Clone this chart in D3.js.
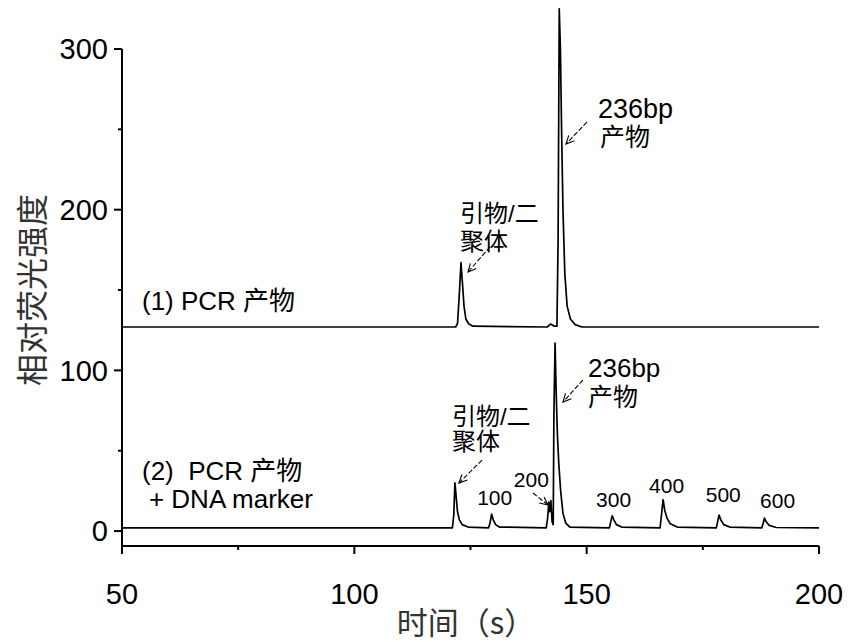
<!DOCTYPE html>
<html>
<head>
<meta charset="utf-8">
<script src="https://cdn.jsdelivr.net/npm/d3@7"></script>
<style>
  html, body { margin: 0; padding: 0; background: #fff; }
  svg { display: block; }
  text { white-space: pre; }
</style>
</head>
<body>
<svg id="chart" width="848" height="642"></svg>
<script>
// ---- Data ----
// Trace (1): PCR product
const trace1Time  = [50, 121.8, 122.2, 122.55, 122.95, 123.25, 123.6, 124.0, 124.6, 125.5, 141.5, 141.9, 142.2, 142.6, 143.0, 143.6, 143.85, 144.1, 144.35, 144.6, 144.9, 145.3, 145.8, 146.5, 147.5, 149, 200];
const trace1Value = [127, 127, 129, 145, 167, 155, 140, 132, 129, 127.5, 127, 128, 128.8, 128.3, 127.5, 127.5, 180, 325, 300, 250, 200, 160, 140, 132, 128.5, 127, 127];

// Trace (2): PCR product + DNA marker
const trace2Time  = [50, 121.1, 121.4, 121.65, 121.9, 122.2, 122.6, 123.2, 124.5,
  128.9, 129.2, 129.55, 129.9, 130.4, 131.2,
  141.3, 141.6, 141.85, 142.05, 142.3, 142.55, 142.8, 142.95, 143.2, 143.45, 143.7, 144.0, 144.4, 144.9, 145.5, 146.4,
  154.9, 155.2, 155.5, 155.85, 156.4, 157.5,
  165.8, 166.1, 166.45, 166.8, 167.3, 168.0, 169.5,
  177.9, 178.2, 178.5, 178.85, 179.5, 180.8,
  187.7, 188.0, 188.25, 188.6, 189.3, 190.8, 200];
const trace2Value = [2, 2, 10, 30, 22, 12, 7, 4, 2.5,
  2, 5, 10.5, 7, 4, 2.5,
  2, 8, 18, 12, 19, 6, 4, 73, 117, 85, 60, 42, 25, 11, 5, 2.5,
  2, 6, 9.5, 7, 4, 2.5,
  2, 10, 19.5, 13, 8, 4.5, 2.5,
  2, 6, 10, 7, 4, 2.5,
  2, 5, 8, 6, 3.5, 2.2, 2];

// Axis ticks
const xMajorTicks = [50, 100, 150, 200];
const xMinorTicks = [75, 125, 175];
const yMajorTicks = [0, 100, 200, 300];
const yMinorTicks = [50, 150, 250];

const xTitle = "时间（s）";
const yTitle = "相对荧光强度";

// Annotation texts
const labelTexts  = ["236bp", "产物", "引物/二", "聚体", "(1) PCR 产物",
                     "236bp", "产物", "引物/二", "聚体", "100", "200", "300", "400", "500", "600",
                     "(2)  PCR 产物", "+ DNA marker"];
const labelTime   = [152.44, 152.87, 122.74, 122.74, 54.3,
                     150.29, 150.29, 121.0, 121.0, 130.2, 138.1, 155.8, 167.2, 179.4, 191.1,
                     54.3, 55.8];
const labelValue  = [257.0, 239.6, 192.3, 174.9, 137.5,
                     95.8, 77.8, 66.0, 50.4, 16.2, 27.4, 14.9, 23.65, 18.05, 14.3,
                     31.7, 14.3];
const labelAnchor = ["start", "start", "start", "start", "start",
                     "start", "start", "start", "start", "middle", "middle", "middle", "middle", "middle", "middle",
                     "start", "start"];
const labelSize   = [27, 25, 24, 24, 26,
                     26, 25, 24, 24, 21, 21, 21, 21, 21, 21,
                     26, 26];

// Arrows: from (t0,v0) to head (t1,v1)
const arrowT0 = [150.07, 129.2, 149.2, 127.5, 138.45];
const arrowV0 = [254.6, 176.8, 94.0, 44.2, 23.65];
const arrowT1 = [145.55, 124.46, 144.9, 122.5, 141.68];
const arrowV1 = [240.9, 161.2, 80.3, 29.9, 16.2];

// ---- Drawing ----
const svg = d3.select("#chart");
const x = d3.scaleLinear().domain([50, 200]).range([122, 819]);
const y = d3.scaleLinear().domain([-9.3, 300]).range([546, 49]);

const latin = "'Liberation Sans', Arial, sans-serif";
const cjk = "'Liberation Sans', 'Noto Sans CJK SC', sans-serif";

// traces
const line = d3.line().x(d => x(d[0])).y(d => y(d[1]));
const t1 = trace1Time.map((t, i) => [t, trace1Value[i]]);
const t2 = trace2Time.map((t, i) => [t, trace2Value[i]]);
[t1, t2].forEach(data => {
  svg.append("path").datum(data)
    .attr("d", line)
    .attr("fill", "none")
    .attr("stroke", "#000")
    .attr("stroke-width", 1.7)
    .attr("stroke-linejoin", "round");
});

// axes
const g = svg.append("g").attr("stroke", "#000");
g.append("line").attr("x1", x(50)).attr("x2", x(200)).attr("y1", y(-9.3)).attr("y2", y(-9.3)).attr("stroke-width", 2);
g.append("line").attr("x1", x(50)).attr("x2", x(50)).attr("y1", y(-9.3)).attr("y2", y(300)).attr("stroke-width", 2);
xMajorTicks.forEach(t => g.append("line").attr("x1", x(t)).attr("x2", x(t)).attr("y1", y(-9.3)).attr("y2", y(-9.3) + 8).attr("stroke-width", 2));
xMinorTicks.forEach(t => g.append("line").attr("x1", x(t)).attr("x2", x(t)).attr("y1", y(-9.3)).attr("y2", y(-9.3) + 4).attr("stroke-width", 2));
yMajorTicks.forEach(v => g.append("line").attr("x1", x(50) - 8).attr("x2", x(50)).attr("y1", y(v)).attr("y2", y(v)).attr("stroke-width", 2));
yMinorTicks.forEach(v => g.append("line").attr("x1", x(50) - 4).attr("x2", x(50)).attr("y1", y(v)).attr("y2", y(v)).attr("stroke-width", 2));

xMajorTicks.forEach(t => svg.append("text")
  .attr("x", x(t)).attr("y", y(-9.3) + 58)
  .attr("text-anchor", "middle").attr("font-family", latin).attr("font-size", 29)
  .text(t));
yMajorTicks.forEach(v => svg.append("text")
  .attr("x", x(50) - 14).attr("y", y(v)).attr("dy", "0.36em")
  .attr("text-anchor", "end").attr("font-family", latin).attr("font-size", 29)
  .text(v));

// axis titles
svg.append("text")
  .attr("x", 466).attr("y", 634)
  .attr("text-anchor", "middle").attr("font-family", "'Noto Sans CJK SC', sans-serif")
  .attr("font-weight", 400).attr("font-size", 31).attr("fill", "#333")
  .text(xTitle);
svg.append("text")
  .attr("transform", "translate(44,290) rotate(-90)")
  .attr("text-anchor", "middle").attr("font-family", "'Noto Sans CJK SC', sans-serif")
  .attr("font-weight", 400).attr("font-size", 32).attr("fill", "#333")
  .text(yTitle);

// labels
labelTexts.forEach((s, i) => svg.append("text")
  .attr("x", x(labelTime[i])).attr("y", y(labelValue[i]))
  .attr("text-anchor", labelAnchor[i])
  .attr("font-family", cjk).attr("font-size", labelSize[i])
  .text(s));

// arrows
arrowT0.forEach((t0, i) => {
  const x0 = x(t0), y0 = y(arrowV0[i]), x1 = x(arrowT1[i]), y1 = y(arrowV1[i]);
  const ang = Math.atan2(y1 - y0, x1 - x0);
  const len = 9, spread = 0.45;
  const a = svg.append("g").attr("stroke", "#000").attr("stroke-width", 1.1).attr("fill", "none");
  a.append("line").attr("x1", x0).attr("y1", y0).attr("x2", x1).attr("y2", y1).attr("stroke-dasharray", "5,2");
  a.append("path").attr("d",
    `M${x1 - len * Math.cos(ang - spread)},${y1 - len * Math.sin(ang - spread)} L${x1},${y1} L${x1 - len * Math.cos(ang + spread)},${y1 - len * Math.sin(ang + spread)}`);
});
</script>
</body>
</html>
